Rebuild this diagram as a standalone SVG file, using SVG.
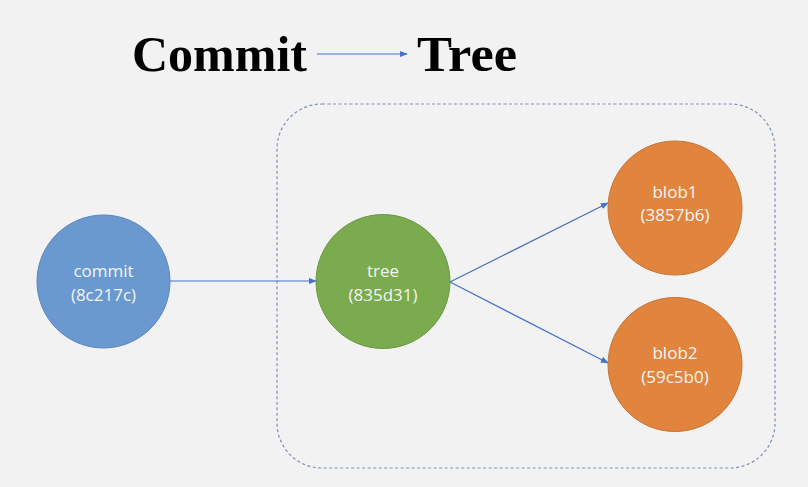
<svg xmlns="http://www.w3.org/2000/svg" width="808" height="487" viewBox="0 0 808 487">
<defs>
<style>
.title{font-family:"Liberation Serif","Times New Roman",serif;font-weight:bold;font-size:51px;fill:#000}
.lbl{font-family:"Open Sans","Liberation Sans",sans-serif;font-size:17px;fill:#f4f4f4;text-anchor:middle}
.edge{stroke:#4472c4;stroke-width:1.2;fill:none;marker-end:url(#arr)}
.node{stroke-width:1}
</style>
<marker id="arr" viewBox="0 0 10 10" refX="9" refY="5" markerWidth="8" markerHeight="8" markerUnits="userSpaceOnUse" orient="auto">
<path d="M0,1 L10,5 L0,9 z" fill="#4472c4"/>
</marker>
</defs>
<rect width="808" height="487" fill="#f2f2f2"/>
<g id="title">
<text class="title" x="132" y="71" textLength="175" lengthAdjust="spacingAndGlyphs">Commit</text>
<text class="title" x="417" y="71" textLength="100" lengthAdjust="spacingAndGlyphs">Tree</text>
</g>
<g id="container">
<rect x="277" y="104" width="498" height="364" rx="45" ry="45" fill="none" stroke="#7f8fb8" stroke-width="1.2" stroke-dasharray="3,2.5"/>
</g>
<g id="connectors">
<line class="edge" x1="317" y1="54" x2="407" y2="54"/>
<line class="edge" x1="170" y1="281" x2="316" y2="281"/>
<line class="edge" x1="450" y1="282" x2="608" y2="203"/>
<line class="edge" x1="450" y1="282" x2="608" y2="363"/>
</g>
<g id="commit">
<circle class="node" cx="103.5" cy="281.5" r="66.5" fill="#6a99d0" stroke="#5b87bd"/>
<text class="lbl" x="103.5" y="277">commit</text>
<text class="lbl" x="103.5" y="301">(8c217c)</text>
</g>
<g id="tree">
<circle class="node" cx="383" cy="281.5" r="67" fill="#7aab4e" stroke="#6a9843"/>
<text class="lbl" x="383" y="277">tree</text>
<text class="lbl" x="383" y="301">(835d31)</text>
</g>
<g id="blob1">
<circle class="node" cx="675" cy="208" r="67" fill="#e0843e" stroke="#c97435"/>
<text class="lbl" x="675" y="198">blob1</text>
<text class="lbl" x="675" y="221">(3857b6)</text>
</g>
<g id="blob2">
<circle class="node" cx="675" cy="364.5" r="67" fill="#e0843e" stroke="#c97435"/>
<text class="lbl" x="675" y="359">blob2</text>
<text class="lbl" x="675" y="383">(59c5b0)</text>
</g>
</svg>
